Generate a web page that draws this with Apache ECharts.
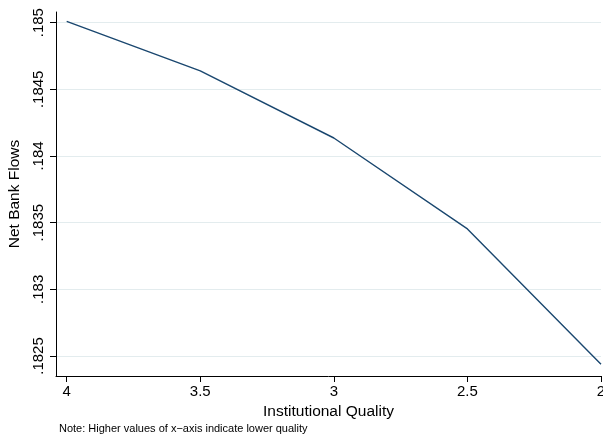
<!DOCTYPE html>
<html>
<head>
<meta charset="utf-8">
<script src="https://cdn.jsdelivr.net/npm/echarts@6/dist/echarts.min.js"></script>
<style>html,body{margin:0;padding:0;background:#fff}#c{width:603px;height:440px}</style>
</head>
<body>
<div id="c"></div>
<script>
var xValues = [4, 3.5, 3, 2.5, 2];
var yValues = [0.18501, 0.184638, 0.184135, 0.183453, 0.182438];
var xTicks = [4, 3.5, 3, 2.5, 2];
var yTicks = [0.1825, 0.183, 0.1835, 0.184, 0.1845, 0.185];
var xTitle = 'Institutional Quality';
var yTitle = 'Net Bank Flows';
var noteText = 'Note: Higher values of x\u2212axis indicate lower quality';

var FONT = 'Liberation Sans, Arial, sans-serif';
function fmtY(v) { return String(Math.round(v * 100000) / 100000).replace(/^0/, ''); }

var chart = echarts.init(document.getElementById('c'), null, {renderer: 'canvas'});
chart.setOption({
  animation: false,
  backgroundColor: '#ffffff',
  grid: {left: 56, right: 2, top: 12, bottom: 64, containLabel: false, outerBoundsMode: 'none'},
  xAxis: {
    type: 'value', inverse: true, min: 2, max: 4.04,
    name: xTitle, nameLocation: 'middle', nameGap: 24,
    nameTextStyle: {fontFamily: FONT, fontSize: 15.5, color: '#000'},
    axisLine: {show: true, onZero: false, lineStyle: {color: '#000', width: 1}},
    axisTick: {show: true, length: 6, customValues: xTicks, lineStyle: {color: '#000'}},
    axisLabel: {customValues: xTicks, margin: 8, fontFamily: FONT, fontSize: 15, color: '#000', formatter: function (v) { return String(v); }},
    splitLine: {show: false}
  },
  yAxis: {
    type: 'value', min: 0.18235, max: 0.18508,
    name: yTitle, nameLocation: 'middle', nameGap: 30,
    nameTextStyle: {fontFamily: FONT, fontSize: 15.5, color: '#000'},
    axisLine: {show: true, onZero: false, lineStyle: {color: '#000', width: 1}},
    axisTick: {show: true, length: 6, customValues: yTicks, lineStyle: {color: '#000'}},
    axisLabel: {customValues: yTicks, rotate: 90, margin: 10, fontFamily: FONT, fontSize: 15, color: '#000', formatter: fmtY},
    splitLine: {show: true, lineStyle: {color: '#e3ecee', width: 1.2}}
  },
  series: [
    {
      type: 'line',
      data: xValues.map(function (x, i) { return [x, yValues[i]]; }),
      showSymbol: false, symbol: 'none',
      lineStyle: {color: '#1a476f', width: 1.4},
      z: 3
    }
  ],
  graphic: [
    {type: 'text', left: 59, top: 423, style: {text: noteText, font: '11px ' + FONT, fill: '#000'}}
  ]
});
</script>
</body>
</html>
